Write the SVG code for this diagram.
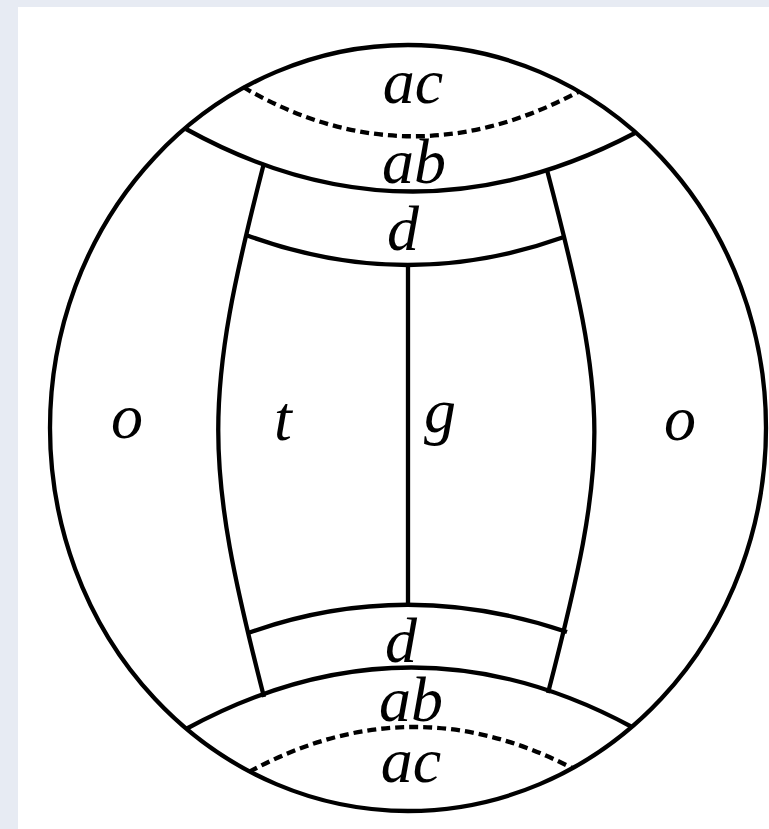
<svg xmlns="http://www.w3.org/2000/svg" width="769" height="829" viewBox="0 0 769 829">
<style>
.ln{fill:none;stroke:#000;stroke-width:4.3;stroke-linecap:butt}
.ds{fill:none;stroke:#000;stroke-width:4.3;stroke-dasharray:9 5}
.lb{font-family:"Liberation Serif","DejaVu Serif",serif;font-style:italic;font-size:64px;fill:#000;text-anchor:middle}
</style>
<rect x="0" y="0" width="769" height="829" fill="#e7ebf3"/>
<rect x="18" y="7" width="751" height="822" fill="#fff"/>
<g id="shapes">
<ellipse class="ln" cx="408" cy="428" rx="358" ry="383"/>
<path class="ds" d="M243,87 Q407,183 578,92"/>
<path class="ln" d="M186,129 Q408,252 635,133"/>
<path class="ln" d="M246,235 Q405,294 564,237"/>
<path class="ln" d="M264,163 C203,400 203,460 264,697"/>
<path class="ln" d="M547,170 C610,410 610,453 548,693"/>
<path class="ln" d="M408,265 L408,605"/>
<path class="ln" d="M248,633 Q405,577 567,632"/>
<path class="ln" d="M186,729 Q410,607 632,727"/>
<path class="ds" d="M249,772 Q410,684 572,768"/>
</g>
<g id="labels">
<text class="lb" x="413" y="103">ac</text>
<text class="lb" x="414" y="183">ab</text>
<text class="lb" x="403" y="250">d</text>
<text class="lb" x="127" y="438">o</text>
<text class="lb" x="283" y="440">t</text>
<text class="lb" x="440" y="432">g</text>
<text class="lb" x="680" y="440">o</text>
<text class="lb" x="401" y="662">d</text>
<text class="lb" x="411" y="721">ab</text>
<text class="lb" x="411" y="782">ac</text>
</g>
</svg>
